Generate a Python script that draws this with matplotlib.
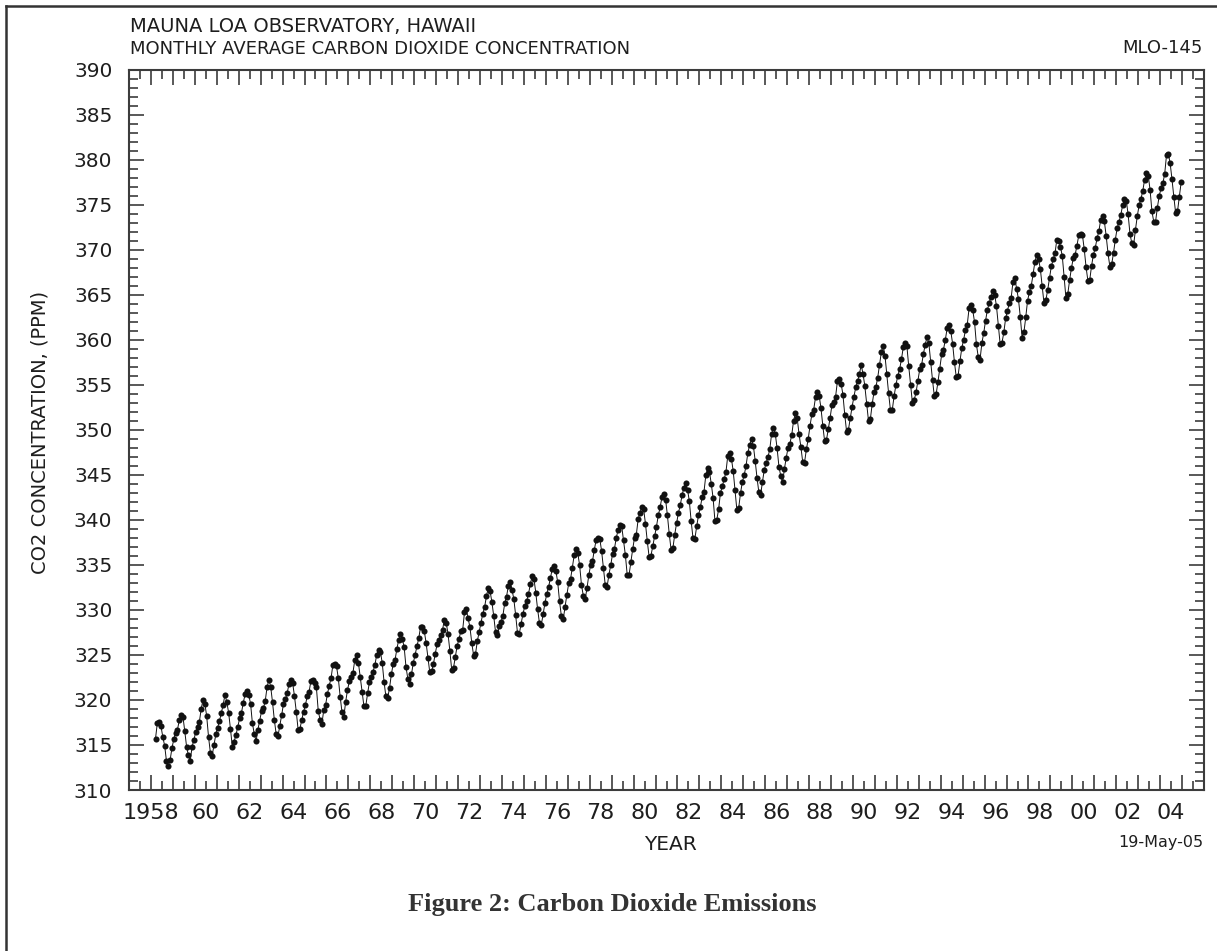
import numpy as np
import matplotlib
matplotlib.use("Agg")
import matplotlib.pyplot as plt
import matplotlib.transforms as mtransforms
from matplotlib.ticker import MultipleLocator
from matplotlib.lines import Line2D

# monthly mean CO2 (ppm), Mauna Loa, from March 1958 to December 2004
first_year = 1958
first_month = 3
co2_ppm = [
    315.71, 317.45, 317.50, 317.10, 315.86, 314.93, 313.20, 312.66, 313.33, 314.67,  # 1958
    315.62, 316.38, 316.71, 317.72, 318.29, 318.15, 316.54, 314.80, 313.84, 313.26, 314.80, 315.58,  # 1959
    316.43, 316.97, 317.58, 319.02, 320.03, 319.59, 318.18, 315.91, 314.16, 313.83, 315.00, 316.19,
    316.93, 317.70, 318.54, 319.48, 320.58, 319.77, 318.57, 316.79, 314.80, 315.38, 316.10, 317.01,
    317.94, 318.56, 319.68, 320.63, 321.01, 320.55, 319.58, 317.40, 316.26, 315.42, 316.69, 317.69,
    318.74, 319.08, 319.86, 321.39, 322.25, 321.47, 319.74, 317.77, 316.21, 315.99, 317.12, 318.31,
    319.57, 320.07, 320.73, 321.77, 322.25, 321.89, 320.44, 318.70, 316.70, 316.79, 317.79, 318.71,  # 1964
    319.44, 320.44, 320.89, 322.13, 322.16, 321.87, 321.39, 318.81, 317.81, 317.30, 318.87, 319.42,
    320.62, 321.59, 322.39, 323.87, 324.01, 323.75, 322.39, 320.37, 318.64, 318.10, 319.79, 321.08,
    322.07, 322.50, 323.04, 324.42, 325.00, 324.09, 322.55, 320.92, 319.31, 319.31, 320.72, 321.96,
    322.57, 323.15, 323.89, 325.02, 325.57, 325.36, 324.14, 322.03, 320.41, 320.25, 321.31, 322.84,
    324.00, 324.42, 325.64, 326.66, 327.34, 326.76, 325.88, 323.67, 322.38, 321.78, 322.85, 324.11,
    325.03, 325.99, 326.87, 328.13, 328.07, 327.66, 326.35, 324.69, 323.10, 323.16, 323.98, 325.13,  # 1970
    326.17, 326.68, 327.18, 327.78, 328.92, 328.57, 327.34, 325.46, 323.36, 323.57, 324.80, 326.01,
    326.77, 327.63, 327.75, 329.72, 330.07, 329.09, 328.05, 326.32, 324.93, 325.06, 326.50, 327.55,
    328.54, 329.56, 330.30, 331.50, 332.48, 332.07, 330.87, 329.31, 327.51, 327.18, 328.16, 328.64,
    329.35, 330.71, 331.48, 332.65, 333.09, 332.25, 331.18, 329.40, 327.44, 327.37, 328.46, 329.58,
    330.40, 331.00, 331.76, 332.83, 333.79, 333.45, 331.91, 330.06, 328.56, 328.34, 329.49, 330.76,
    331.75, 332.56, 333.50, 334.58, 334.87, 334.34, 333.05, 330.94, 329.30, 328.94, 330.31, 331.68,
    332.93, 333.42, 334.70, 336.07, 336.74, 336.27, 334.93, 332.75, 331.58, 331.16, 332.40, 333.85,
    334.97, 335.39, 336.64, 337.76, 338.01, 337.89, 336.54, 334.68, 332.76, 332.54, 333.92, 334.95,
    336.23, 336.76, 337.96, 338.88, 339.47, 339.29, 337.73, 336.09, 333.91, 333.86, 335.29, 336.73,
    338.01, 338.36, 340.08, 340.77, 341.46, 341.17, 339.56, 337.60, 335.88, 336.01, 337.10, 338.21,  # 1980
    339.24, 340.48, 341.38, 342.50, 342.91, 342.25, 340.49, 338.43, 336.69, 336.85, 338.36, 339.61,
    340.75, 341.61, 342.70, 343.56, 344.13, 343.35, 342.06, 339.82, 337.97, 337.86, 339.26, 340.49,
    341.38, 342.52, 343.10, 344.94, 345.75, 345.32, 343.99, 342.39, 339.86, 339.99, 341.16, 342.99,
    343.70, 344.51, 345.28, 347.08, 347.43, 346.79, 345.40, 343.28, 341.07, 341.35, 342.98, 344.22,
    344.97, 345.99, 347.42, 348.35, 348.93, 348.25, 346.56, 344.67, 343.09, 342.80, 344.24, 345.56,
    346.29, 346.96, 347.86, 349.55, 350.21, 349.54, 347.94, 345.91, 344.86, 344.17, 345.66, 346.90,
    348.02, 348.47, 349.42, 350.99, 351.84, 351.25, 349.52, 348.10, 346.44, 346.36, 347.81, 348.96,
    350.43, 351.72, 352.22, 353.59, 354.22, 353.79, 352.39, 350.44, 348.72, 348.88, 350.07, 351.34,
    352.76, 353.07, 353.68, 355.42, 355.67, 355.13, 353.90, 351.67, 349.80, 349.99, 351.30, 352.53,
    353.66, 354.70, 355.39, 356.20, 357.16, 356.22, 354.82, 352.91, 350.96, 351.18, 352.83, 354.21,  # 1990
    354.72, 355.75, 357.16, 358.60, 359.34, 358.24, 356.17, 354.03, 352.16, 352.21, 353.75, 354.99,
    355.98, 356.72, 357.81, 359.15, 359.66, 359.25, 357.03, 355.00, 353.01, 353.31, 354.16, 355.40,
    356.70, 357.16, 358.38, 359.46, 360.28, 359.60, 357.57, 355.52, 353.70, 353.98, 355.33, 356.80,
    358.36, 358.91, 359.97, 361.26, 361.68, 360.95, 359.55, 357.49, 355.84, 356.00, 357.59, 359.05,
    359.98, 361.03, 361.66, 363.48, 363.82, 363.30, 361.94, 359.50, 358.11, 357.80, 359.61, 360.74,
    362.09, 363.29, 364.06, 364.76, 365.45, 365.01, 363.70, 361.54, 359.51, 359.65, 360.80, 362.38,
    363.23, 364.06, 364.61, 366.40, 366.84, 365.68, 364.52, 362.57, 360.24, 360.83, 362.49, 364.34,
    365.27, 365.98, 367.24, 368.66, 369.42, 368.99, 367.82, 365.95, 364.02, 364.40, 365.52, 366.84,
    368.16, 368.91, 369.58, 371.12, 370.97, 370.33, 369.25, 366.91, 364.60, 365.09, 366.63, 367.96,
    369.08, 369.40, 370.45, 371.59, 371.75, 371.62, 370.04, 368.04, 366.54, 366.63, 368.20, 369.43,  # 2000
    370.18, 371.24, 372.05, 373.33, 373.77, 373.13, 371.51, 369.59, 368.12, 368.38, 369.64, 371.11,
    372.38, 373.08, 373.87, 374.93, 375.58, 375.44, 373.91, 371.77, 370.72, 370.50, 372.19, 373.71,
    374.92, 375.63, 376.51, 377.75, 378.54, 378.21, 376.65, 374.28, 373.12, 373.10, 374.67, 375.97,
    376.79, 377.37, 378.41, 380.52, 380.63, 379.57, 377.79, 375.86, 374.06, 374.24, 375.86, 377.48,  # 2004
]

year_ticks = list(range(1958, 2005, 2))
year_tick_labels = ["1958"] + ["%02d" % (y % 100) for y in year_ticks[1:]]

# months placed at their middle
month_index = np.arange(len(co2_ppm)) + (first_month - 1)
dates = first_year + (month_index + 0.5) / 12.0

W, H = 1217, 951
fig = plt.figure(figsize=(W / 100, H / 100), dpi=100)
ax = fig.add_axes([129 / W, 1 - 790 / H, (1204 - 129) / W, (790 - 69.5) / H])

ink = "#1e1e1e"
frame = "#3c3c3c"

ax.plot(dates, co2_ppm, color="#111111", lw=0.7, marker="o", ms=4.4,
        mfc="#111111", mec="#111111", mew=0)

ax.set_xlim(1957, 2006)
ax.set_ylim(310, 390)
ax.xaxis.set_major_locator(MultipleLocator(1))
ax.xaxis.set_minor_locator(MultipleLocator(0.5))
ax.yaxis.set_major_locator(MultipleLocator(5))
ax.yaxis.set_minor_locator(MultipleLocator(1))

for s in ax.spines.values():
    s.set_color(frame)
    s.set_linewidth(1.5)

ax.tick_params(which="both", direction="in", top=True, right=True,
               color=frame, width=1.2)
ax.tick_params(which="major", length=10.5)
ax.tick_params(which="minor", length=6.3)
ax.tick_params(axis="x", labelbottom=False)
ax.tick_params(axis="y", labelsize=14.5, labelcolor=ink, pad=12)

# year labels sit in the middle of the year, the first one a bit left
label_trans = mtransforms.blended_transform_factory(ax.transData, fig.transFigure)
for y, lab in zip(year_ticks, year_tick_labels):
    xpos = y + 0.5 if lab != "1958" else y + 0.0
    ax.text(xpos, 1 - 813 / H, lab, transform=label_trans,
            ha="center", va="center", fontsize=16, color=ink)

fig.text(670 / W, 1 - 844 / H, "YEAR", ha="center", va="center",
         fontsize=14.5, color=ink)
fig.text(40 / W, 1 - 432 / H, "CO2 CONCENTRATION, (PPM)", rotation=90,
         ha="center", va="center", fontsize=14, color=ink)
fig.text(130 / W, 1 - 26 / H, "MAUNA LOA OBSERVATORY, HAWAII",
         ha="left", va="center", fontsize=14, color=ink)
fig.text(130 / W, 1 - 48.5 / H, "MONTHLY AVERAGE CARBON DIOXIDE CONCENTRATION",
         ha="left", va="center", fontsize=13, color=ink)
fig.text(1203 / W, 1 - 48 / H, "MLO-145", ha="right", va="center",
         fontsize=13, color=ink)
fig.text(1203 / W, 1 - 843 / H, "19-May-05", ha="right", va="center",
         fontsize=11.5, color=ink)
fig.text(408 / W, 1 - 905 / H, "Figure 2: Carbon Dioxide Emissions",
         ha="left", va="center", fontsize=19, fontweight="bold",
         family="Liberation Serif", color="#333333")

# page frame, only top and left edges are visible in the crop
fig.add_artist(Line2D([6 / W, 1], [1 - 6 / H, 1 - 6 / H],
                      transform=fig.transFigure, color="#333333", lw=1.8))
fig.add_artist(Line2D([6 / W, 6 / W], [0, 1 - 6 / H],
                      transform=fig.transFigure, color="#333333", lw=1.8))

fig.savefig("out.png", dpi=100)
